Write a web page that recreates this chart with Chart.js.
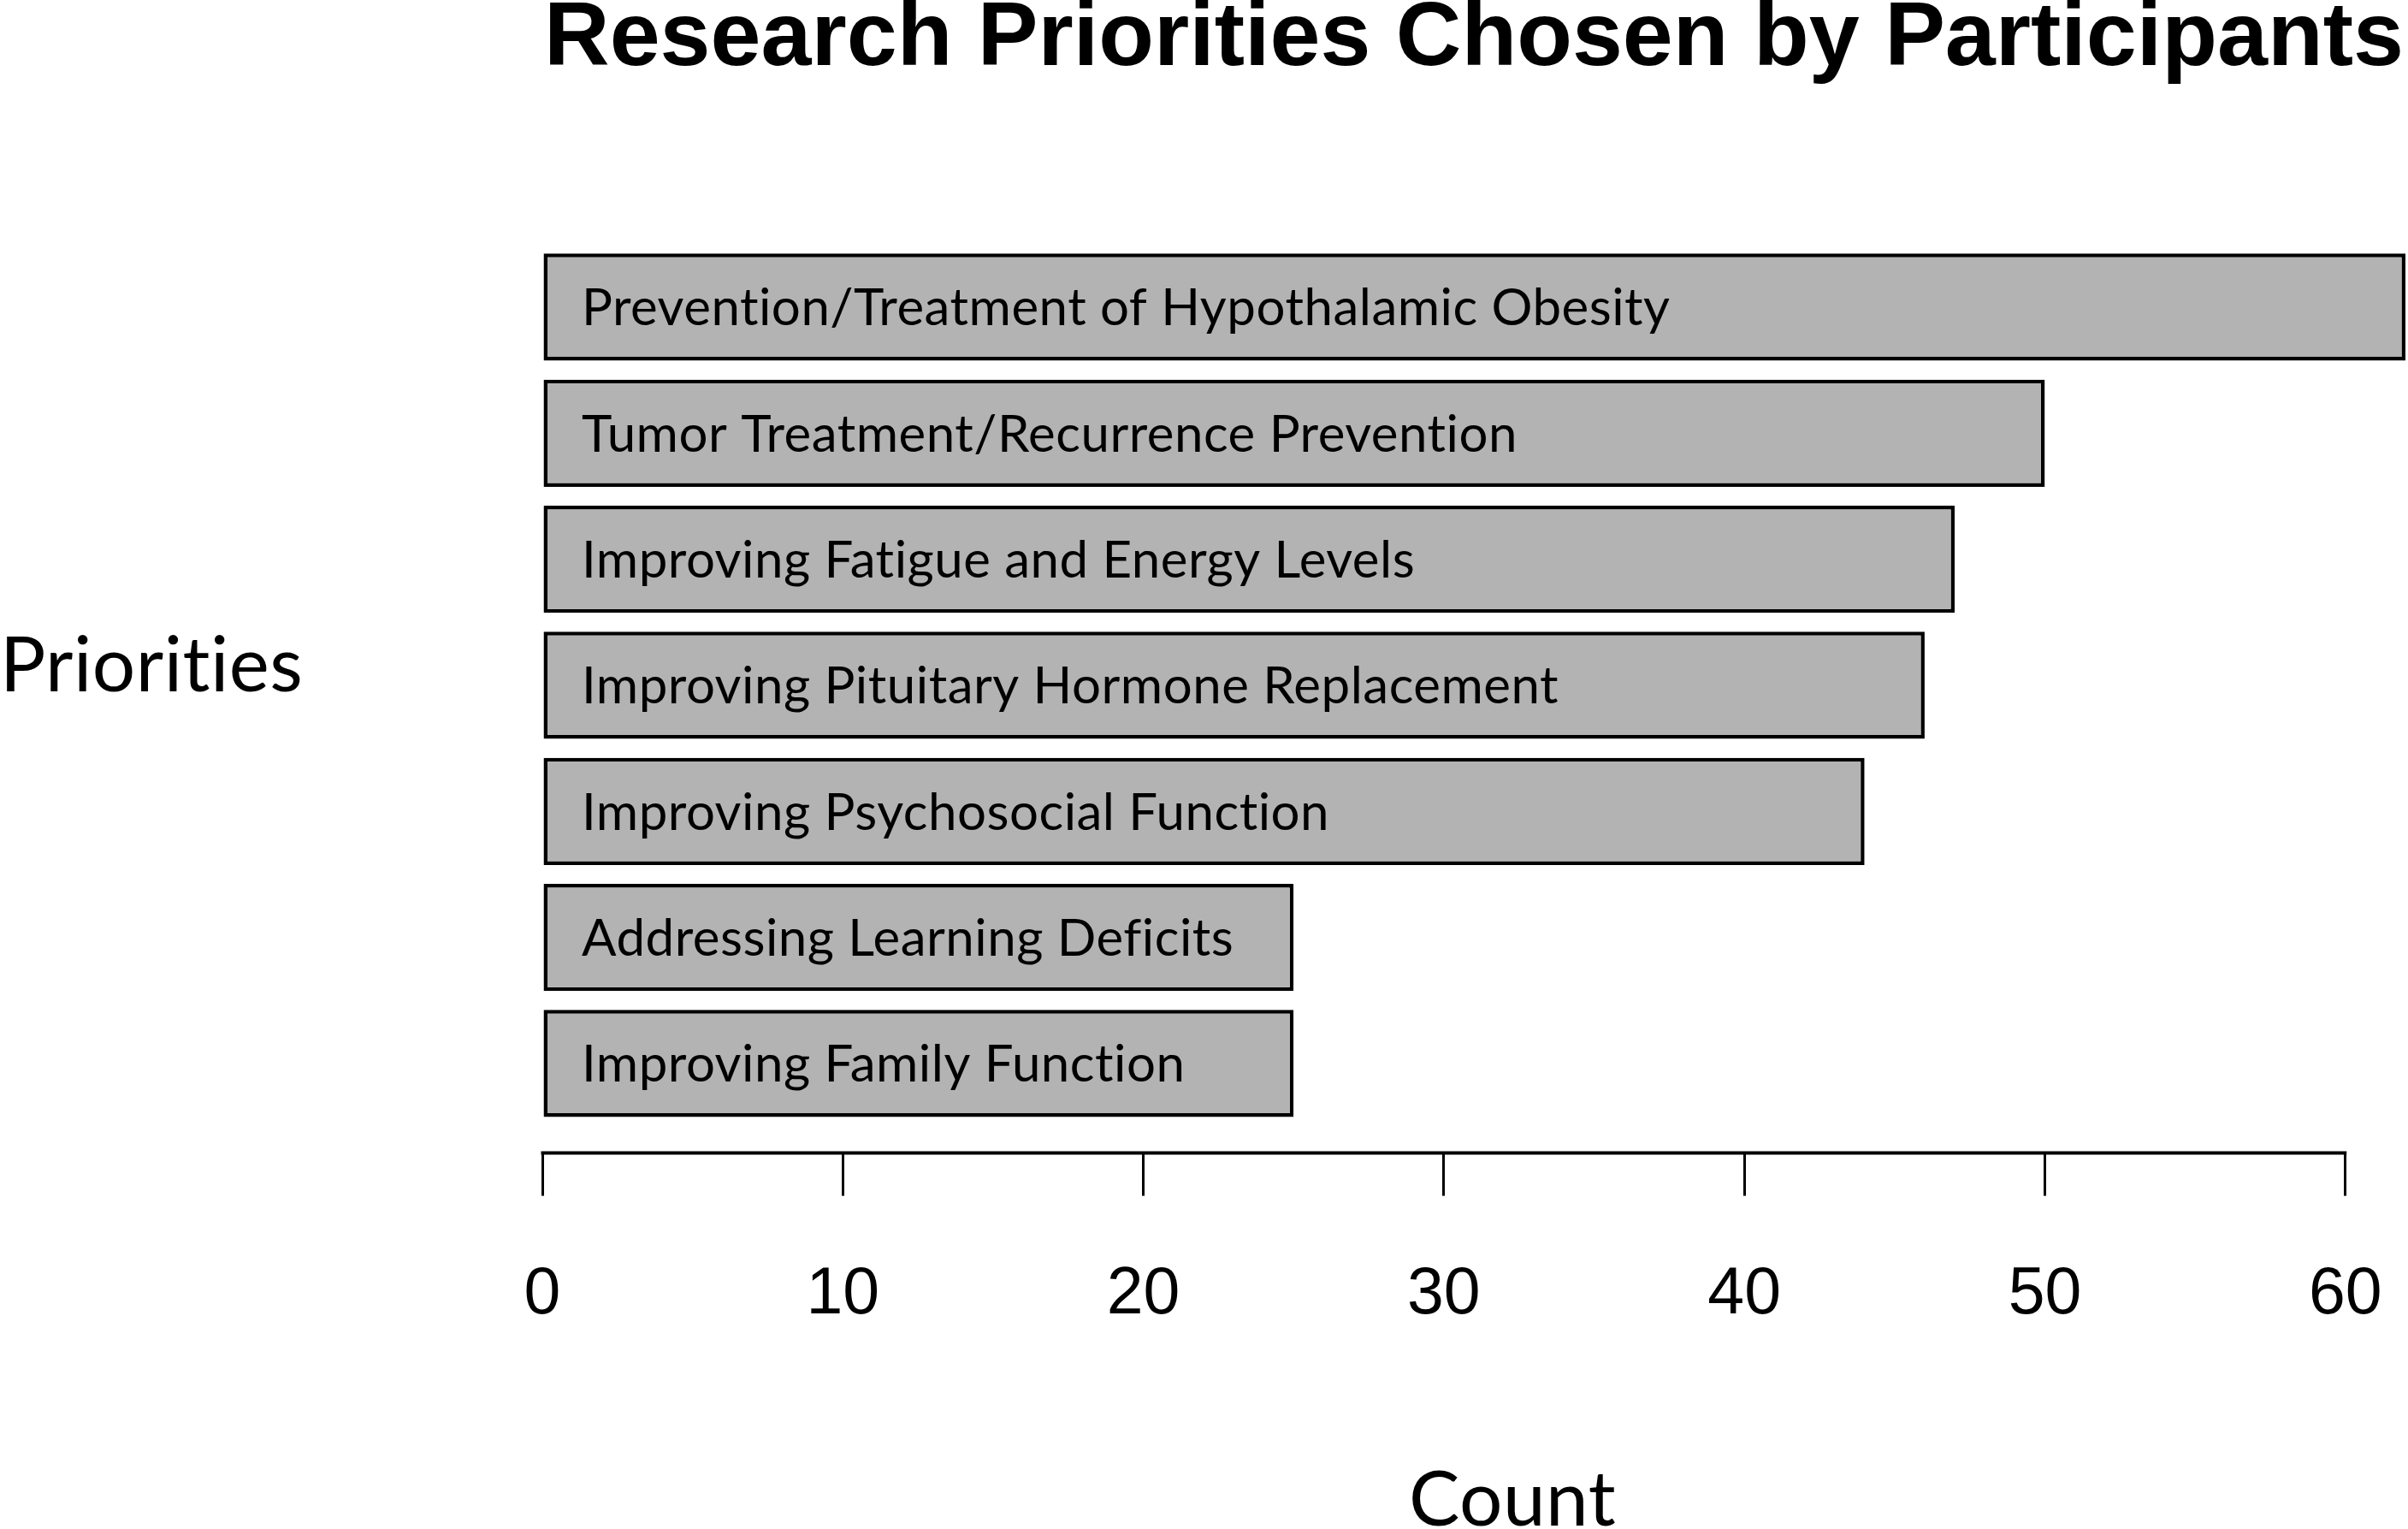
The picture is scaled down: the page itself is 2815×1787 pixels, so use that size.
<!DOCTYPE html>
<html>
<head>
<meta charset="utf-8">
<script src="https://cdn.jsdelivr.net/npm/chart.js@4"></script>
<style>
	html, body { margin: 0; padding: 0; background: #fff; }
	canvas { display: block; }
</style>
</head>
<body>
<canvas id="priorityChart" width="2815" height="1787"></canvas>
<script>
const prioridades = [
	'Prevention/Treatment of Hypothalamic Obesity',
	'Tumor Treatment/Recurrence Prevention',
	'Improving Fatigue and Energy Levels',
	'Improving Pituitary Hormone Replacement',
	'Improving Psychosocial Function',
	'Addressing Learning Deficits',
	'Improving Family Function'
];
const contagens = [62, 50, 47, 46, 44, 25, 25];
const marcasEixo = [0, 10, 20, 30, 40, 50, 60];

const tituloGrafico = 'Research Priorities Chosen by Participants';
const tituloX = 'Count';
const tituloY = 'Priorities';

// etiquetas dentro das barras, eixo x estilo R e titulos dos eixos
const textoExtra = {
	id: 'textoExtra',
	afterDatasetsDraw(chart) {
		const ctx = chart.ctx;
		const x = chart.scales.x;
		const barras = chart.getDatasetMeta(0).data;
		ctx.save();
		ctx.fillStyle = '#000';
		ctx.letterSpacing = '0.5px'; // evita a ligadura "ti" do Lato
		ctx.font = '60px Lato';
		ctx.textAlign = 'left';
		ctx.textBaseline = 'middle';
		barras.forEach((barra, i) => {
			ctx.fillText(prioridades[i], x.getPixelForValue(0) + 46, barra.y + 2);
		});

		// linha do eixo so de 0 a 60
		ctx.strokeStyle = '#000';
		ctx.lineWidth = 4;
		ctx.beginPath();
		ctx.moveTo(x.getPixelForValue(marcasEixo[0]) - 1.5, chart.chartArea.bottom);
		ctx.lineTo(x.getPixelForValue(marcasEixo[marcasEixo.length - 1]) + 1.5, chart.chartArea.bottom);
		ctx.stroke();

		ctx.font = '89px Lato';
		ctx.textBaseline = 'alphabetic';
		ctx.fillText(tituloY, 0, 808);
		ctx.textAlign = 'center';
		ctx.fillText(tituloX, 1768, 1783);
		ctx.restore();
	}
};

const pontos = contagens.map((v, i) => ({ x: v, y: i }));

new Chart(document.getElementById('priorityChart').getContext('2d'), {
	type: 'bar',
	data: {
		datasets: [{
			data: pontos,
			backgroundColor: '#b3b3b3',
			borderColor: '#000',
			borderWidth: 4.5,
			borderSkipped: false,
			categoryPercentage: 1,
			barPercentage: 0.85
		}]
	},
	options: {
		indexAxis: 'y',
		responsive: false,
		devicePixelRatio: 1,
		animation: false,
		layout: { padding: { left: 634, right: 3, top: 0, bottom: 157 } },
		plugins: {
			legend: { display: false },
			tooltip: { enabled: false },
			title: {
				display: true,
				text: tituloGrafico,
				fullSize: false,
				color: '#000',
				font: { family: 'Liberation Sans', size: 106, weight: 'bold', lineHeight: 0.88 },
				padding: { top: 0, bottom: 192 }
			}
		},
		scales: {
			y: {
				type: 'linear',
				display: false,
				reverse: true,
				offset: false,
				grid: { offset: false },
				min: -0.5,
				max: 6.71,
				afterBuildTicks(scale) {
					scale.ticks = prioridades.map((p, i) => ({ value: i }));
				}
			},
			x: {
				type: 'linear',
				min: 0,
				max: 62,
				afterBuildTicks(scale) {
					scale.ticks = marcasEixo.map(v => ({ value: v }));
				},
				afterFit(scale) {
					scale.paddingLeft = 0;
					scale.paddingRight = 0;
				},
				border: { display: false },
				grid: {
					drawOnChartArea: false,
					drawTicks: true,
					tickLength: 50,
					tickColor: '#000',
					lineWidth: 3
				},
				ticks: {
					color: '#000',
					padding: 70,
					maxRotation: 0,
					font: { family: 'Liberation Sans', size: 77, lineHeight: 1.2 }
				}
			}
		}
	},
	plugins: [textoExtra]
});
</script>
</body>
</html>
